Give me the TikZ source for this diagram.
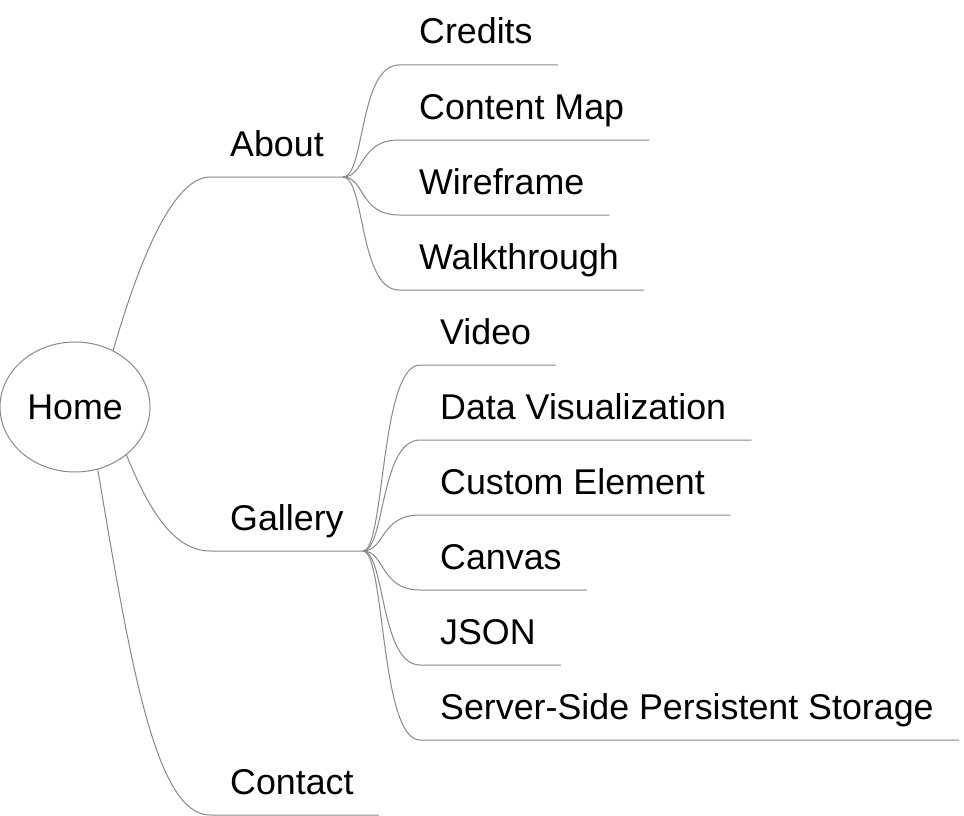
\documentclass[tikz,border=0pt]{standalone}
\usepackage{fontspec}
\setmainfont{Liberation Sans}
\usetikzlibrary{shapes.geometric}
\definecolor{edgegray}{HTML}{888888}

\begin{document}
\begin{tikzpicture}[x=1pt, y=-1pt,
    edge/.style={draw=edgegray, line width=1pt},
    topic/.style={ellipse, draw=edgegray, line width=1pt, minimum width=150pt,
                  minimum height=130pt, inner sep=0pt, font=\fontsize{35.8}{43}\selectfont},
    leaf/.style={anchor=base west, inner xsep=25pt, inner ysep=0pt, xshift=-5pt, yshift=21pt,
                 font=\fontsize{35.8}{43}\selectfont},
    branch/.style={to path={.. controls +(22,0) and +(-40,0) .. (\tikztotarget)}}]
    \useasboundingbox (0,0) rectangle (964,816);

    \node[topic] (home) at (75,407) {Home};

    % first level
    \coordinate (about-pt)      at (210,177);
    \coordinate (about-hub)     at (343,177);
    \coordinate (gallery-pt)    at (210,551);
    \coordinate (gallery-hub)   at (363,551);
    \coordinate (contact-pt)    at (210,815);

    \node[leaf] (about)    at (about-pt)    {About};
    \node[leaf] (gallery)  at (gallery-pt)  {Gallery};
    \node[leaf] (contact)  at (contact-pt)  {Contact};

    % second level, about
    \coordinate (credits-pt)     at (399,65);
    \coordinate (contentmap-pt)  at (399,140);
    \coordinate (wireframe-pt)   at (399,215);
    \coordinate (walkthrough-pt) at (399,290);

    \node[leaf] (credits)     at (credits-pt)     {Credits};
    \node[leaf] (contentmap)  at (contentmap-pt)  {Content Map};
    \node[leaf] (wireframe)   at (wireframe-pt)   {Wireframe};
    \node[leaf] (walkthrough) at (walkthrough-pt) {Walkthrough};

    % second level, gallery
    \coordinate (video-pt)    at (420,365);
    \coordinate (dataviz-pt)  at (420,440);
    \coordinate (custom-pt)   at (420,515);
    \coordinate (canvas-pt)   at (420,590);
    \coordinate (json-pt)     at (420,665);
    \coordinate (storage-pt)  at (420,740);

    \node[leaf] (video)    at (video-pt)    {Video};
    \node[leaf] (dataviz)  at (dataviz-pt)  {Data Visualization};
    \node[leaf] (custom)   at (custom-pt)   {Custom Element};
    \node[leaf] (canvas)   at (canvas-pt)   {Canvas};
    \node[leaf] (json)     at (json-pt)     {JSON};
    \node[leaf] (storage)  at (storage-pt)  {Server-Side Persistent Storage};

    \draw[edge] (home.56)  .. controls (135,275) and (170,177) .. (about-pt) -- (about-hub);
    \draw[edge] (home.-43) .. controls (145,500) and (170,551) .. (gallery-pt) -- (gallery-hub);
    \draw[edge] (home.-70) .. controls (130,660) and (155,815) .. (contact-pt) -- (contact-pt -| contact.east);

    \foreach \n in {credits, contentmap, wireframe, walkthrough}
        \draw[edge] (about-hub) to[branch] (\n-pt) -- (\n-pt -| \n.east);
    \foreach \n in {video, dataviz, custom, canvas, json, storage}
        \draw[edge] (gallery-hub) to[branch] (\n-pt) -- (\n-pt -| \n.east);
\end{tikzpicture}
\end{document}
